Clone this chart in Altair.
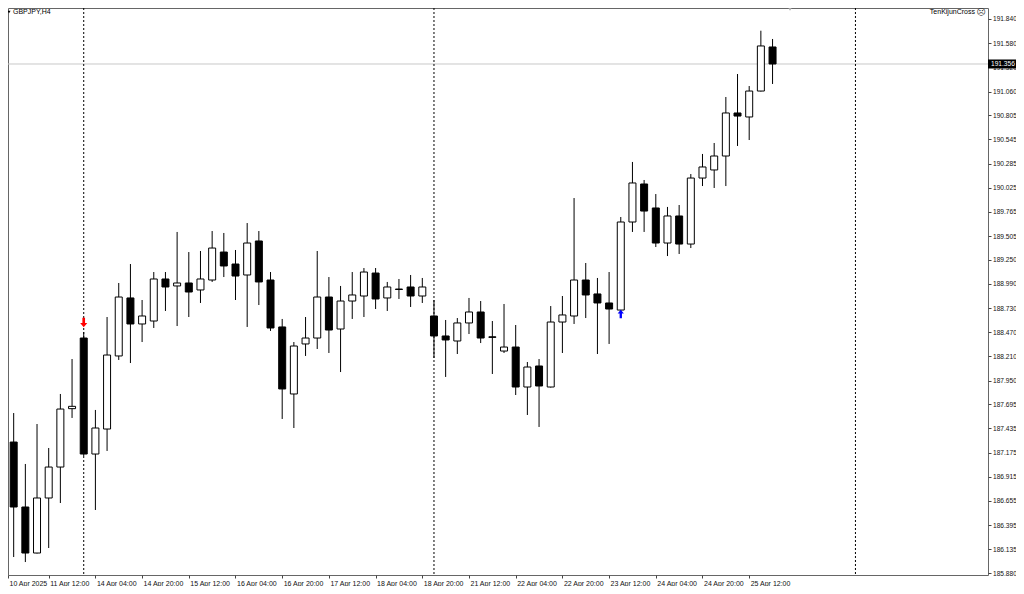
import altair as alt
import pandas as pd

# ---- data (GBPJPY, H4) ----
opens = [187.225, 187.289, 186.590, 186.095, 186.687, 187.020, 187.648, 188.408, 187.160, 187.429,
         188.215, 188.839, 188.559, 188.591, 189.043, 188.968, 189.000, 188.925, 189.032, 189.333,
         189.204, 189.086, 189.452, 189.032, 188.527, 187.806, 188.344, 188.408, 188.849, 188.505,
         188.806, 188.860, 189.107, 188.839, 188.935, 188.957, 188.860, 188.645, 188.430, 188.376,
         188.570, 188.688, 188.421, 188.268, 188.311, 187.881, 188.107, 187.881, 188.580, 188.645,
         189.032, 188.882, 188.785, 188.709, 189.656, 190.065, 189.807, 189.430, 189.721, 189.419,
         190.129, 190.216, 190.366, 190.829, 190.786, 191.065, 191.539]
highs = [187.924, 187.601, 187.053, 187.483, 187.225, 187.806, 188.182, 188.473, 187.634, 188.634,
         189.000, 189.204, 188.817, 189.118, 189.118, 189.549, 189.333, 189.344, 189.559, 189.538,
         189.355, 189.645, 189.559, 189.118, 188.613, 188.365, 188.634, 189.344, 189.064, 188.968,
         189.118, 189.161, 189.161, 189.011, 189.043, 189.086, 189.054, 188.817, 188.602, 188.623,
         188.839, 188.806, 188.591, 188.774, 188.548, 188.150, 188.182, 188.752, 188.860, 189.914,
         189.215, 189.054, 189.118, 189.710, 190.302, 190.108, 189.957, 189.818, 189.839, 190.172,
         190.388, 190.506, 191.001, 191.248, 191.119, 191.714, 191.625]
lows = [186.913, 186.052, 185.998, 186.090, 186.149, 186.633, 187.548, 187.139, 186.558, 187.193,
        188.172, 188.139, 188.365, 188.516, 188.699, 188.537, 188.634, 188.785, 189.011, 189.064,
        188.817, 188.527, 188.763, 188.484, 187.537, 187.440, 188.215, 188.290, 188.247, 188.042,
        188.613, 188.634, 188.720, 188.699, 188.828, 188.742, 188.785, 188.193, 187.989, 188.236,
        188.451, 188.354, 188.021, 188.247, 187.795, 187.580, 187.451, 187.875, 188.247, 188.559,
        188.623, 188.236, 188.344, 188.700, 189.549, 189.549, 189.387, 189.290, 189.312, 189.376,
        190.043, 190.022, 190.043, 190.474, 190.538, 191.060, 191.141]
closes = [187.300, 186.590, 186.095, 186.687, 187.020, 187.644, 187.673, 187.160, 187.440, 188.225,
          188.849, 188.559, 188.645, 189.043, 188.957, 189.000, 188.903, 189.043, 189.376, 189.183,
          189.075, 189.430, 189.011, 188.516, 187.860, 188.322, 188.408, 188.849, 188.494, 188.806,
          188.871, 189.118, 188.828, 188.957, 188.930, 188.860, 188.957, 188.430, 188.387, 188.570,
          188.688, 188.408, 188.415, 188.311, 187.881, 188.096, 187.892, 188.580, 188.656, 189.032,
          188.871, 188.785, 188.720, 189.656, 190.076, 189.774, 189.430, 189.721, 189.419, 190.129,
          190.248, 190.366, 190.829, 190.796, 191.065, 191.550, 191.356]

x_labels = ["10 Apr 2025", "11 Apr 12:00", "14 Apr 04:00", "14 Apr 20:00", "15 Apr 12:00",
            "16 Apr 04:00", "16 Apr 20:00", "17 Apr 12:00", "18 Apr 04:00", "18 Apr 20:00",
            "21 Apr 12:00", "22 Apr 04:00", "22 Apr 20:00", "23 Apr 12:00", "24 Apr 04:00",
            "24 Apr 20:00", "25 Apr 12:00"]
y_ticks = [191.84, 191.58, 191.32, 191.06, 190.805, 190.545, 190.285, 190.025, 189.765, 189.505,
           189.25, 188.99, 188.73, 188.47, 188.21, 187.95, 187.695, 187.435, 187.175, 186.915,
           186.655, 186.395, 186.135, 185.88]
current_price = [191.356]
separators = [7, 37, 73.1]
sell_bar = [7]
sell_price = [188.575]
buy_bar = [53]
buy_price = [188.666]
symbol_title = ["GBPJPY,H4"]
indicator_name = ["TenKijunCross"]

FONT = "Liberation Sans"

df = pd.DataFrame({"i": list(range(len(opens))), "open": opens, "high": highs,
                   "low": lows, "close": closes})

xscale = alt.Scale(domain=[0.514, 84.454], nice=False, zero=False, padding=0)
yscale = alt.Scale(domain=[185.8586, 191.9583], nice=False, zero=False, padding=0)

label_js = "[" + ",".join("'" + s + "'" for s in x_labels) + "]"
xaxis = alt.Axis(values=[0.514] + list(range(4, 4 * len(x_labels), 4)),
                 labelExpr=label_js + "[round(datum.value/4)]",
                 orient="bottom", grid=False, domain=False, tickSize=3, tickColor="#444",
                 labelAlign="left", labelBaseline="middle", labelPadding=5, labelOffset=1,
                 labelFont=FONT, labelFontSize=7, labelColor="#111", title=None,
                 labelOverlap=False, labelFlush=False, labelBound=False)
yaxis = alt.Axis(values=y_ticks, format=".3f", orient="right", grid=False, domain=False,
                 tickSize=3, tickColor="#444", labelPadding=1.5, labelAlign="left",
                 labelBaseline="middle", labelFont=FONT, labelFontSize=6.6, labelColor="#111",
                 title=None, labelOverlap=False, labelFlush=False, labelBound=False,
                 labelSeparation=0)


def X(field):
    return alt.X(field, scale=xscale, axis=xaxis)


def Y(field):
    return alt.Y(field, scale=yscale, axis=yaxis)


base = alt.Chart(df)

wick = base.mark_rule(color="#000", strokeWidth=1, clip=True).encode(
    x=X("i:Q"), y=Y("low:Q"), y2="high:Q",
)
body = base.mark_bar(size=7, stroke="#000", strokeWidth=1, clip=True).encode(
    x=X("i:Q"), y=Y("open:Q"), y2="close:Q",
    fill=alt.condition("datum.close > datum.open", alt.value("#ffffff"), alt.value("#000000")),
)

price_df = pd.DataFrame({"p": current_price})
price_line = alt.Chart(price_df).mark_rule(color="#c8c8c8", strokeWidth=1).encode(y=Y("p:Q"))
price_box = alt.Chart(price_df).mark_tick(orient="horizontal", color="#000", thickness=9,
                                          size=32, opacity=1).encode(
    y=Y("p:Q"), x=alt.value(996))
price_text = alt.Chart(price_df).mark_text(align="left", baseline="middle", color="#fff",
                                           font=FONT, fontSize=6.6).encode(
    y=Y("p:Q"), x=alt.value(983), text=alt.Text("p:Q", format=".3f"))

sep = alt.Chart(pd.DataFrame({"s": separators})).mark_rule(
    color="#000", strokeWidth=1, strokeDash=[2, 2]).encode(x=X("s:Q"))

down_arrow = "M0,1L-0.75,0.1L-0.28,0.1L-0.28,-1L0.28,-1L0.28,0.1L0.75,0.1Z"
up_arrow = "M0,-1L-0.75,-0.1L-0.28,-0.1L-0.28,1L0.28,1L0.28,-0.1L0.75,-0.1Z"
sell = alt.Chart(pd.DataFrame({"i": sell_bar, "p": sell_price})).mark_point(
    shape=down_arrow, size=90, filled=True, fill="#ff0000", strokeWidth=0, opacity=1).encode(
    x=X("i:Q"), y=Y("p:Q"))
buy = alt.Chart(pd.DataFrame({"i": buy_bar, "p": buy_price})).mark_point(
    shape=up_arrow, size=70, filled=True, fill="#0000ff", strokeWidth=0, opacity=1).encode(
    x=X("i:Q"), y=Y("p:Q"))

title_txt = alt.Chart(pd.DataFrame({"t": symbol_title})).mark_text(
    align="left", baseline="middle", font=FONT, fontSize=7, color="#000").encode(
    text="t:N", x=alt.value(5), y=alt.value(4))
title_tri = alt.Chart(pd.DataFrame({"t": symbol_title})).mark_point(
    shape="triangle-down", size=10, filled=True, fill="#000", opacity=1).encode(
    x=alt.value(1), y=alt.value(4))
ind_txt = alt.Chart(pd.DataFrame({"t": indicator_name})).mark_text(
    align="right", baseline="middle", font=FONT, fontSize=7, color="#000").encode(
    text="t:N", x=alt.value(967), y=alt.value(4))
ind_icon = alt.Chart(pd.DataFrame({"t": ["\u2639"]})).mark_text(
    align="center", baseline="middle", font="DejaVu Sans", fontSize=9, color="#333").encode(
    text="t:N", x=alt.value(973), y=alt.value(4))
shift_tri = alt.Chart(pd.DataFrame({"t": ["shift"]})).mark_point(
    shape="triangle-down", size=18, filled=True, fill="#a8a8a8", opacity=1).encode(
    x=alt.value(782), y=alt.value(1))

chart = alt.layer(
    price_line, sep, wick, body, sell, buy, price_box, price_text,
    title_txt, title_tri, ind_txt, ind_icon, shift_tri
).properties(
    width=980, height=567,
    autosize=alt.AutoSizeParams(type="none"),
    padding={"left": 0, "top": 0, "right": 28, "bottom": 11},
    background="#ffffff",
).configure_view(stroke="#666666", strokeWidth=1)

chart.save("out.html", embed_options={"renderer": "svg", "actions": False})
